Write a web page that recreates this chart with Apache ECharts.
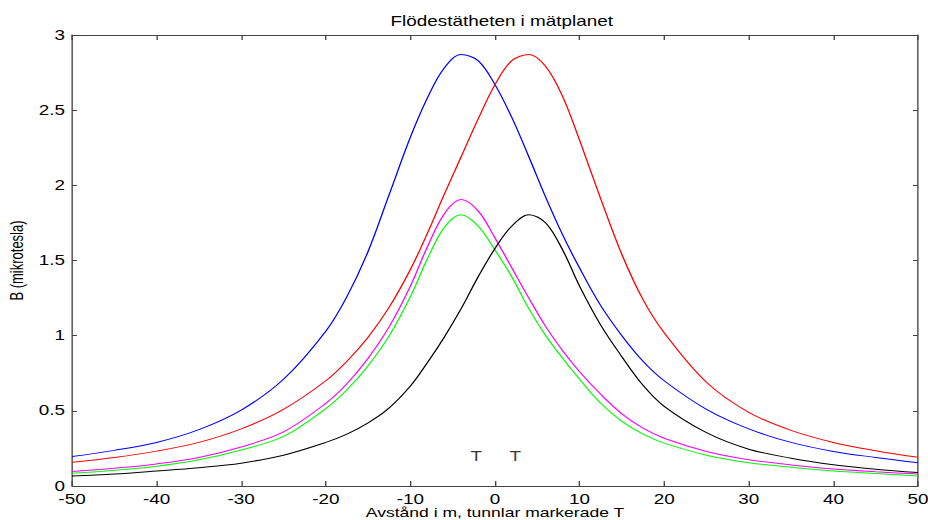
<!DOCTYPE html>
<html>
<head>
<meta charset="utf-8">
<script src="https://cdn.jsdelivr.net/npm/echarts@6/dist/echarts.min.js"></script>
<style>
html,body{margin:0;padding:0;background:#fff;overflow:hidden}
#wrap{width:928px;height:520px;overflow:hidden;position:relative}
#c{width:688px;height:520px;transform-origin:0 0;transform:scaleX(1.3488);position:absolute;left:0;top:0}
</style>
</head>
<body>
<div id="wrap"><div id="c"></div></div>
<script>
const xs = [-50,-45,-40,-35,-30,-25,-20,-17.5,-15,-12.5,-10,-8,-6,-4,-2,0,2,4,6,8,10,12.5,15,17.5,20,25,30,35,40,45,50];
const blue    = [0.196,0.237,0.29,0.375,0.505,0.71,1.03,1.26,1.56,1.94,2.32,2.58,2.78,2.87,2.83,2.67,2.45,2.19,1.92,1.67,1.45,1.20,1.00,0.83,0.70,0.51,0.38,0.29,0.23,0.19,0.155];
const red     = [0.158,0.19,0.232,0.29,0.38,0.51,0.70,0.83,0.99,1.19,1.44,1.68,1.94,2.19,2.44,2.67,2.83,2.87,2.79,2.59,2.30,1.91,1.54,1.24,1.02,0.69,0.49,0.37,0.29,0.235,0.191];
const magenta = [0.096,0.118,0.147,0.19,0.26,0.36,0.55,0.68,0.85,1.06,1.33,1.59,1.81,1.905,1.83,1.65,1.45,1.25,1.06,0.90,0.76,0.61,0.48,0.385,0.318,0.23,0.175,0.14,0.113,0.095,0.08];
const green   = [0.084,0.104,0.132,0.175,0.24,0.33,0.515,0.64,0.80,1.00,1.26,1.51,1.72,1.805,1.73,1.57,1.39,1.18,1.00,0.85,0.71,0.55,0.43,0.345,0.285,0.205,0.155,0.125,0.1,0.083,0.067];
const black   = [0.067,0.08,0.1,0.122,0.152,0.205,0.29,0.345,0.42,0.52,0.665,0.82,0.99,1.18,1.39,1.58,1.73,1.805,1.75,1.57,1.33,1.07,0.86,0.67,0.53,0.355,0.245,0.185,0.142,0.112,0.089];
const tunnelX = [-2.2, 2.4];
const tunnelY = [0.2, 0.2];
const tunnelLabel = 'T';
const titleText = 'Flödestätheten i mätplanet';
const xName = 'Avstånd i m, tunnlar markerade T';
const yName = 'B (mikrotesla)';

const SX = 1.3488; // horizontal stretch of the picture
const FONT = 'Liberation Sans, Arial, sans-serif';
const chart = echarts.init(document.getElementById('c'), null, {renderer: 'svg'});
function pairs(ys){ return xs.map((x,i)=>[x, ys[i]]); }
function line(name, ys, color){
  return {name, type:'line', data: pairs(ys), smooth: 0.35, symbol:'none',
    lineStyle:{color, width:1}, itemStyle:{color}, animation:false, z:3};
}
function axisLine(){ return {show:true, onZero:false, lineStyle:{color:'#444', width:1}}; }
function tick(len){ return {show:true, inside:true, length:len, lineStyle:{color:'#444'}}; }
const gl = 72/SX, gr = 10/SX;
chart.setOption({
  backgroundColor:'#fff',
  animation:false,
  title:{text:titleText, left:(gl + 688 - gr)/2, top:9, textAlign:'center',
    textStyle:{fontFamily:FONT, fontSize:14, fontWeight:'normal', color:'#000'}},
  grid:{left:gl, right:gr, top:35, bottom:34, outerBoundsMode:'none', containLabel:false},
  xAxis:[
    {type:'value', min:-50, max:50, interval:10, position:'bottom',
     name:xName, nameLocation:'middle', nameGap:20, nameMoveOverlap:false,
     nameTextStyle:{fontFamily:FONT, fontSize:13, lineHeight:13, color:'#000'},
     axisLine:axisLine(), axisTick:tick(5), splitLine:{show:false},
     axisLabel:{fontFamily:FONT, fontSize:14, lineHeight:12, color:'#000', margin:7}},
    {type:'value', min:-50, max:50, interval:10, position:'top',
     axisLine:axisLine(), axisTick:tick(5), splitLine:{show:false}, axisLabel:{show:false}}
  ],
  yAxis:[
    {type:'value', min:0, max:3, interval:0.5, position:'left',
     name:yName, nameLocation:'middle', nameGap:46/SX, nameMoveOverlap:false,
     nameTextStyle:{fontFamily:FONT, fontSize:13, color:'#000'},
     axisLine:axisLine(), axisTick:tick(5/SX), splitLine:{show:false},
     axisLabel:{fontFamily:FONT, fontSize:14, lineHeight:11, color:'#000', margin:7/SX}},
    {type:'value', min:0, max:3, interval:0.5, position:'right',
     axisLine:axisLine(), axisTick:tick(5/SX), splitLine:{show:false}, axisLabel:{show:false}}
  ],
  series:[
    line('blue', blue, '#0000ff'),
    line('red', red, '#ff0000'),
    line('magenta', magenta, '#ff00ff'),
    line('green', green, '#00ff00'),
    line('black', black, '#000000'),
    {type:'scatter', data: tunnelX.map((x,i)=>[x, tunnelY[i]]), symbolSize:0,
     label:{show:true, position:'inside', formatter:()=>tunnelLabel,
       fontFamily:FONT, fontSize:14, color:'#000'}, silent:true}
  ]
});
</script>
</body>
</html>
